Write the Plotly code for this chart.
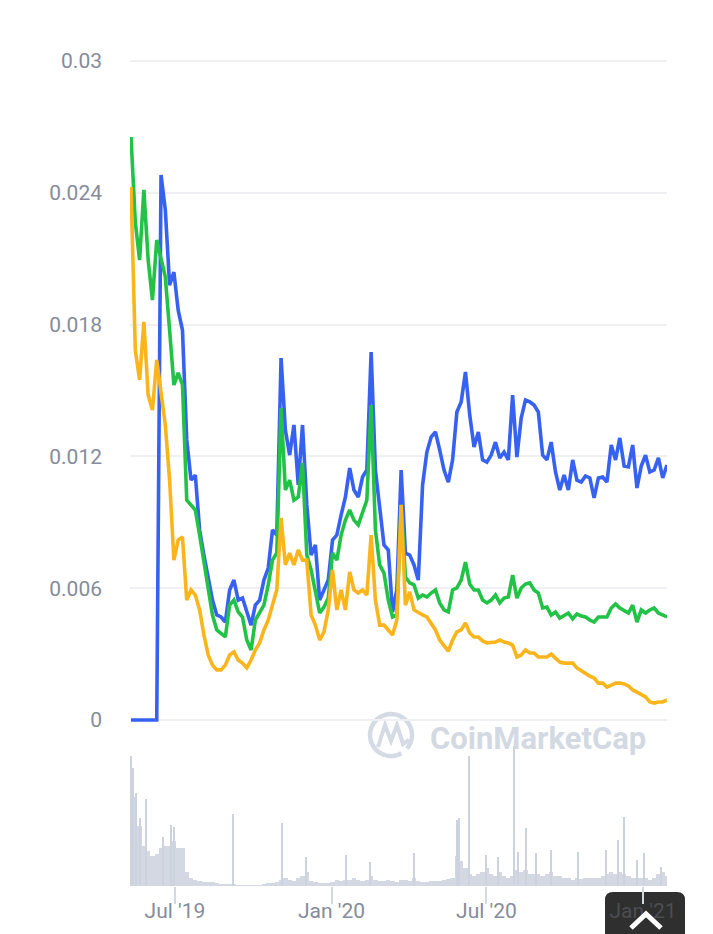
import numpy as np
import pandas as pd
import plotly.graph_objects as go

# sample dates (every ~5 days, shared by the three price lines and the volume blocks)
dates = pd.date_range("2019-05-10 10:00", "2021-01-29 03:00", periods=126)

price_blue = [
    0, 0, 0, 0, 0, 0, 0, 0.02481, 0.02322, 0.0198,
    0.02039, 0.01866, 0.01775, 0.01275, 0.01092, 0.01115, 0.00865, 0.00751, 0.00637, 0.00546,
    0.00478, 0.00469, 0.00446, 0.00592, 0.00637, 0.00546, 0.00555, 0.00492, 0.00432, 0.00523,
    0.00546, 0.00637, 0.00692, 0.00865, 0.00842, 0.01648, 0.0132, 0.01206, 0.01343, 0.0107,
    0.01343, 0.00979, 0.00751, 0.00797, 0.00546, 0.00592, 0.00637, 0.00819, 0.00842, 0.00933,
    0.01015, 0.01147, 0.01047, 0.01015, 0.01106, 0.01138, 0.01675, 0.01138, 0.00956, 0.00797,
    0.00774, 0.00492, 0.00592, 0.01138, 0.0076, 0.00751, 0.00706, 0.00637, 0.0107, 0.0122,
    0.01288, 0.01311, 0.01229, 0.01138, 0.01083, 0.01184, 0.01402, 0.01448, 0.01584, 0.01388,
    0.01243, 0.01311, 0.01184, 0.01174, 0.01206, 0.01265, 0.01193, 0.0122, 0.01184, 0.01479,
    0.01197, 0.01375, 0.01457, 0.01448, 0.01434, 0.01402, 0.01206, 0.01184, 0.01265, 0.01129,
    0.01047, 0.01115, 0.01047, 0.01184, 0.01092, 0.01083, 0.01111, 0.01102, 0.01011, 0.01102,
    0.01106, 0.01083, 0.01252, 0.01184, 0.01284, 0.01156, 0.01152, 0.01252, 0.01056, 0.01156,
    0.01206, 0.01129, 0.01138, 0.01193, 0.01102, 0.01161]

price_green = [
    0.02654, 0.02267, 0.02094, 0.02413, 0.02094, 0.01912, 0.02185, 0.02094, 0.02017, 0.01775,
    0.01525, 0.0158, 0.01525, 0.01001, 0.00979, 0.00956, 0.00842, 0.00728, 0.00592, 0.00478,
    0.0041, 0.00396, 0.00378, 0.00523, 0.00546, 0.00492, 0.00469, 0.00364, 0.00319, 0.00455,
    0.00487, 0.00523, 0.00615, 0.00728, 0.0076, 0.0142, 0.01047, 0.01092, 0.01001, 0.01015,
    0.0117, 0.00751, 0.00683, 0.00592, 0.00487, 0.00514, 0.00555, 0.0076, 0.00728, 0.00842,
    0.0091, 0.00956, 0.0091, 0.00888, 0.00947, 0.01001, 0.01434, 0.00865, 0.00706, 0.00669,
    0.00546, 0.00469, 0.00478, 0.00979, 0.00651, 0.00624, 0.00615, 0.00555, 0.00569, 0.0056,
    0.00578, 0.00592, 0.00533, 0.00501, 0.00492, 0.00592, 0.00601, 0.00637, 0.00719, 0.00619,
    0.00592, 0.00592, 0.00546, 0.00533, 0.00546, 0.00569, 0.00533, 0.00555, 0.0056, 0.0066,
    0.00555, 0.00601, 0.00619, 0.00624, 0.00592, 0.00578, 0.0051, 0.00514, 0.00478, 0.00492,
    0.00464, 0.00478, 0.00487, 0.0046, 0.00483, 0.00473, 0.00469, 0.00455, 0.00446, 0.00469,
    0.00469, 0.00469, 0.0051, 0.00528, 0.0051, 0.00496, 0.00487, 0.00523, 0.00446, 0.00501,
    0.00487, 0.00501, 0.0051, 0.00487, 0.00478, 0.00469]

price_orange = [
    0.02426, 0.01684, 0.01548, 0.01812, 0.01479, 0.01411, 0.01639, 0.01479, 0.01343, 0.01092,
    0.00728, 0.00819, 0.00833, 0.00546, 0.00592, 0.00569, 0.00501, 0.00387, 0.00296, 0.0025,
    0.00228, 0.00228, 0.0025, 0.00296, 0.0031, 0.00273, 0.00259, 0.00237, 0.00273, 0.00319,
    0.00351, 0.0041, 0.00455, 0.00523, 0.00592, 0.0092, 0.00706, 0.0076, 0.00706, 0.00774,
    0.00728, 0.00728, 0.00478, 0.00432, 0.00364, 0.00401, 0.00501, 0.00683, 0.00501, 0.00592,
    0.00501, 0.00674, 0.00592, 0.00578, 0.00592, 0.00569, 0.00842, 0.00546, 0.00432, 0.00432,
    0.0041, 0.00387, 0.00455, 0.00979, 0.00523, 0.00583, 0.00501, 0.00487, 0.00478, 0.00469,
    0.00442, 0.0041, 0.00364, 0.00337, 0.00314, 0.00364, 0.00401, 0.0041, 0.00442, 0.00396,
    0.00378, 0.00378, 0.0036, 0.00351, 0.00351, 0.00355, 0.00364, 0.00355, 0.00351, 0.00341,
    0.00287, 0.00296, 0.00319, 0.00305, 0.00305, 0.00287, 0.00287, 0.00287, 0.003, 0.00282,
    0.00264, 0.00259, 0.00259, 0.00259, 0.00237, 0.00223, 0.00214, 0.002, 0.00191, 0.00168,
    0.00168, 0.0015, 0.00159, 0.00168, 0.00168, 0.00164, 0.00155, 0.00137, 0.00127, 0.00118,
    0.00105, 0.00082, 0.00077, 0.00082, 0.00082, 0.00091]

# volume (relative units), 5-day blocks plus the single-day spikes
volume_base = [
    110, 90, 60, 40, 35, 30, 32, 38, 40, 40,
    45, 38, 38, 14, 8, 6, 5, 4, 4, 4,
    3, 2, 2, 2, 2, 1, 1, 1, 1, 1,
    1, 2, 3, 3, 4, 6, 8, 6, 5, 8,
    10, 14, 5, 4, 3, 3, 3, 4, 6, 5,
    6, 6, 8, 6, 5, 6, 10, 6, 5, 5,
    6, 5, 4, 6, 6, 5, 8, 5, 4, 4,
    5, 5, 5, 6, 7, 8, 30, 25, 18, 12,
    10, 12, 14, 18, 12, 10, 14, 10, 8, 10,
    16, 14, 16, 12, 12, 12, 10, 12, 14, 10,
    10, 8, 8, 6, 8, 7, 8, 8, 8, 8,
    10, 12, 14, 12, 14, 12, 10, 8, 8, 8,
    8, 6, 8, 12, 14, 10]

spike_dates = ["2019-05-10", "2019-05-13", "2019-05-16", "2019-05-21", "2019-05-28",
               "2019-06-17", "2019-06-27", "2019-06-30", "2019-09-07", "2019-11-04",
               "2019-12-02", "2020-01-18", "2020-02-15", "2020-04-07", "2020-05-27",
               "2020-05-30", "2020-06-11", "2020-06-30", "2020-07-15", "2020-08-03",
               "2020-08-07", "2020-08-17", "2020-08-28", "2020-09-15", "2020-10-17",
               "2020-11-19", "2020-12-03", "2020-12-10", "2020-12-25", "2021-01-02",
               "2021-01-22"]
spike_vals = [131, 119, 94, 68, 88, 49, 61, 59, 73, 63,
              29, 31, 24, 33, 66, 68, 131, 31, 29, 141,
              34, 58, 33, 36, 34, 36, 46, 69, 26, 33, 19]

tick_dates = ["2019-07-01", "2020-01-01", "2020-07-01", "2021-01-01"]
tick_labels = ["Jul '19", "Jan '20", "Jul '20", "Jan '21"]
price_ticks = [0, 0.006, 0.012, 0.018, 0.024, 0.03]
price_labels = ["0", "0.006", "0.012", "0.018", "0.024", "0.03"]

# the page body adds an 8px margin on top/left, so the figure is drawn 8px smaller
OFF = 8
W, H = 713 - OFF, 934 - OFF
L, R, T, B = 130 - OFF, 46, 48 - OFF, 48
plot_w = W - L - R
plot_h = H - T - B
DAY_MS = 86400000


def px(x):
    # screen pixel -> paper fraction
    return (x - OFF - L) / plot_w


def py(y):
    return (H - B - (y - OFF)) / plot_h


fig = go.Figure()
fig.add_trace(go.Bar(x=dates, y=volume_base, yaxis="y2", width=5.04 * DAY_MS,
                     marker=dict(color="#d3d8e2", line=dict(width=0)), showlegend=False))
fig.add_trace(go.Bar(x=pd.to_datetime(spike_dates), y=spike_vals, yaxis="y2", width=1.3 * DAY_MS,
                     marker=dict(color="#cdd3de", line=dict(width=0)), showlegend=False))
fig.add_trace(go.Scatter(x=dates, y=price_blue, mode="lines",
                         line=dict(color="#3761f0", width=3.6), showlegend=False))
fig.add_trace(go.Scatter(x=dates, y=price_green, mode="lines",
                         line=dict(color="#22c247", width=3.6), showlegend=False))
fig.add_trace(go.Scatter(x=dates, y=price_orange, mode="lines",
                         line=dict(color="#fbb51c", width=3.6), showlegend=False))

label_font = dict(family="Roboto", size=21, color="#858c9b")
# the last date label sits behind the dark button, so it shows up dimmed
x_ticktext = tick_labels[:-1] + ["<span style='color:#4b4d52'>" + tick_labels[-1] + "</span>"]

# CoinMarketCap watermark
ang = np.linspace(np.radians(-40), np.radians(300), 40)
cx, cy, rad = 391, 735, 21
arc = "M " + " L ".join("{:.5f},{:.5f}".format(px(cx + rad * np.cos(a)), py(cy - rad * np.sin(a))) for a in ang)
wave_pts = [(378, 747), (385, 725), (391, 741), (397, 725), (403, 744), (409, 740)]
wave = "M " + " L ".join("{:.5f},{:.5f}".format(px(x), py(y)) for x, y in wave_pts)

# dark "back to top" button with chevron
bx0, bx1, by0, by1, rr = 605, 685, 892, 945, 8
button = ("M {a},{b} L {a},{c} Q {a},{d} {e},{d} L {f},{d} Q {g},{d} {g},{c} L {g},{b} Z"
          .format(a=px(bx0), b=py(by1), c=py(by0 + rr), d=py(by0), e=px(bx0 + rr),
                  f=px(bx1 - rr), g=px(bx1)))
chevron = "M {},{} L {},{} L {},{}".format(px(631), py(928), px(646), py(914), px(661), py(928))

fig.update_layout(
    width=W, height=H,
    margin=dict(l=L, r=R, t=T, b=B),
    paper_bgcolor="white", plot_bgcolor="white",
    bargap=0, barmode="overlay",
    xaxis=dict(type="date", anchor="y2", range=["2019-05-09 05:30", "2021-01-29 03:30"],
               showgrid=False, zeroline=False, showline=False, automargin=False,
               tickvals=tick_dates, ticktext=x_ticktext, ticks="outside", ticklen=17,
               tickwidth=1.5, tickcolor="#d3d8e1", tickfont=label_font, ticklabelstandoff=-11),
    yaxis=dict(domain=[py(733), 1], range=[-0.000592, 0.030592], automargin=False,
               tickvals=price_ticks, ticktext=price_labels, ticks="", ticklabelstandoff=27,
               showgrid=True, gridcolor="#eef0f4", gridwidth=1.5,
               zeroline=False, showline=False, tickfont=label_font),
    yaxis2=dict(domain=[0, py(741)], range=[0, 146], visible=False),
    shapes=[
        dict(type="path", path=arc, xref="paper", yref="paper",
             line=dict(color="#d5dbe5", width=4.5), layer="below"),
        dict(type="path", path=wave, xref="paper", yref="paper",
             line=dict(color="#d5dbe5", width=4), layer="below"),
        dict(type="path", path=button, xref="paper", yref="paper",
             fillcolor="#2f2f2f", line=dict(width=0), layer="below"),
        dict(type="path", path=chevron, xref="paper", yref="paper",
             line=dict(color="white", width=5), layer="above"),
    ],
    annotations=[
        dict(text="<b>CoinMarketCap</b>", x=px(538), y=py(738), xref="paper", yref="paper",
             xanchor="center", yanchor="middle", showarrow=False,
             font=dict(family="Roboto", size=31, color="#d3d9e3"))
    ],
)

fig.write_html("out.html")
